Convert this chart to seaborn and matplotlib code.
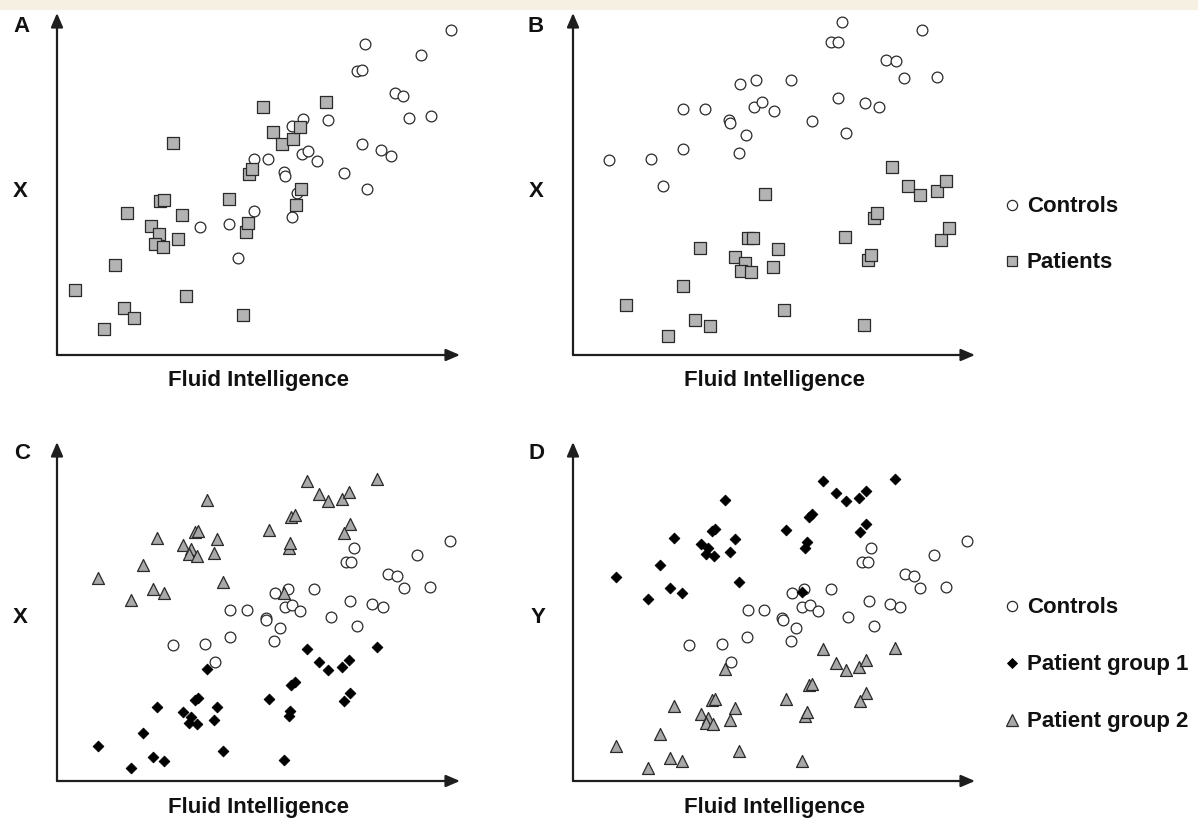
import matplotlib
matplotlib.use("Agg")
import matplotlib.pyplot as plt
from matplotlib.lines import Line2D
from matplotlib.patches import Rectangle
import seaborn as sns
import pandas as pd

# ---------------- data (arbitrary score units) ----------------
# Panel A
a_pat_x = [5.3, 14.0, 17.3, 20.2, 23.0, 21.1, 28.3, 30.6, 29.4, 31.8, 31.0, 32.1, 36.3, 37.5, 34.7,
           38.8, 51.7, 55.7, 56.6, 57.3, 57.5, 58.6, 61.9, 65.0, 67.6, 71.0, 73.0, 80.8, 73.4, 71.8]
a_pat_y = [19.5, 7.7, 27.0, 14.1, 11.2, 42.5, 38.6, 36.2, 33.2, 32.5, 46.1, 46.4, 34.7, 41.9, 63.4,
           17.7, 46.7, 12.0, 37.0, 39.7, 54.2, 55.7, 74.2, 66.7, 63.1, 64.8, 68.3, 75.7, 49.9, 45.1]
a_con_x = [43.0, 51.7, 54.3, 59.0, 59.0, 63.4, 68.2, 68.5, 70.5, 72.0, 70.6, 74.0, 73.7, 75.4, 78.0,
           81.5, 86.3, 91.5, 93.0, 97.2, 100.2, 90.1, 91.7, 92.5, 101.5, 103.8, 105.7, 112.4, 109.2, 118.2]
a_con_y = [38.5, 39.2, 29.0, 43.2, 58.7, 58.6, 54.8, 53.5, 41.5, 48.5, 68.7, 70.7, 60.1, 61.1, 58.2,
           70.3, 54.4, 63.1, 49.9, 61.5, 59.6, 85.1, 85.4, 93.1, 78.5, 77.6, 70.9, 71.5, 89.9, 97.3]

# Panel B
b_con_x = [10.9, 23.5, 27.0, 33.1, 33.1, 39.6, 46.7, 47.0, 49.9, 51.9, 50.2, 54.8, 54.2, 56.8, 60.3,
           65.4, 71.9, 77.4, 79.7, 80.8, 79.6, 81.9, 87.7, 91.8, 93.9, 97.1, 99.3, 104.9, 109.3]
b_con_y = [58.3, 58.8, 50.8, 61.8, 73.7, 73.7, 70.5, 69.5, 60.4, 66.0, 81.1, 82.4, 74.3, 75.7, 73.1,
           82.4, 70.2, 93.7, 93.7, 99.8, 76.9, 66.6, 75.6, 74.3, 88.4, 88.2, 83.0, 97.3, 83.4]
b_pat_x = [15.8, 28.4, 32.9, 36.7, 41.2, 38.1, 48.7, 51.6, 50.4, 53.5, 52.6, 53.9, 57.7, 60.1, 61.5,
           63.5, 81.6, 87.4, 88.7, 89.4, 90.3, 91.3, 95.8, 100.5, 104.2, 109.2, 112.0, 110.4, 112.8]
b_pat_y = [15.1, 5.8, 20.6, 10.5, 8.7, 32.2, 29.3, 27.5, 25.1, 24.8, 35.0, 35.1, 48.3, 26.4, 31.9,
           13.5, 35.4, 9.0, 28.5, 29.9, 41.2, 42.5, 56.4, 50.8, 48.0, 49.2, 52.2, 34.5, 38.0]

# Panel C
c_g2_x = [12.4, 22.1, 25.7, 28.9, 32.1, 29.9, 37.8, 40.1, 39.6, 42.0, 41.4, 42.3, 47.0, 48.0, 45.1,
          49.7, 63.7, 68.1, 69.6, 70.0, 70.4, 71.6, 75.0, 78.6, 81.5, 85.6, 87.7, 88.0, 86.3, 96.0]
c_g2_y = [60.9, 54.4, 64.8, 57.7, 56.4, 72.9, 70.8, 69.7, 68.0, 67.5, 74.7, 75.1, 68.5, 72.6, 84.2,
          59.6, 75.2, 56.5, 70.0, 71.4, 79.2, 79.9, 90.0, 86.2, 83.9, 84.7, 86.8, 77.1, 74.3, 90.7]
c_g1_x = [12.4, 22.1, 25.7, 28.9, 32.1, 29.9, 37.8, 40.1, 39.6, 42.0, 41.4, 42.3, 47.0, 48.0, 45.1,
          49.7, 63.7, 68.1, 69.6, 70.0, 70.4, 71.6, 75.0, 78.6, 81.5, 85.6, 87.7, 88.0, 86.3, 96.0]
c_g1_y = [10.5, 4.0, 14.3, 7.3, 5.9, 22.3, 20.6, 19.2, 17.5, 17.1, 24.4, 24.8, 18.2, 22.1, 33.5,
          9.1, 24.7, 6.2, 19.4, 20.9, 28.7, 29.7, 39.5, 35.7, 33.4, 34.2, 36.2, 26.5, 24.0, 40.1]
c_con_x = [34.7, 44.4, 47.5, 52.0, 52.0, 56.9, 62.7, 62.7, 65.3, 67.1, 65.6, 69.5, 68.5, 70.6, 73.1,
           77.3, 82.4, 88.1, 90.1, 86.7, 88.2, 89.3, 94.6, 98.0, 99.5, 102.1, 104.1, 108.2, 112.0, 118.0]
c_con_y = [40.8, 41.2, 35.7, 43.3, 51.4, 51.4, 49.0, 48.4, 42.0, 45.9, 56.5, 57.6, 52.2, 52.9, 51.0,
           57.6, 49.1, 53.9, 46.6, 65.7, 65.6, 69.8, 53.1, 52.1, 62.0, 61.4, 57.8, 67.9, 58.3, 72.1]

# Panel D
d_g1_x = [12.9, 22.5, 26.2, 29.0, 32.6, 30.2, 38.3, 40.4, 39.8, 42.2, 41.6, 42.7, 47.0, 48.5, 45.6,
          49.8, 64.0, 68.7, 69.6, 70.3, 70.8, 71.7, 75.0, 79.0, 82.0, 85.8, 87.9, 88.1, 86.3, 96.6]
d_g1_y = [61.1, 54.6, 64.9, 57.9, 56.5, 73.0, 71.2, 69.9, 68.1, 67.6, 75.1, 75.5, 68.8, 72.7, 84.3,
          59.8, 75.4, 56.8, 70.0, 71.6, 79.3, 80.2, 90.1, 86.4, 84.0, 84.9, 86.9, 77.2, 74.6, 90.7]
d_g2_x = [12.9, 22.5, 26.2, 29.0, 32.6, 30.2, 38.3, 40.4, 39.8, 42.0, 41.6, 42.7, 47.0, 48.5, 45.6,
          49.8, 64.0, 68.7, 69.6, 70.3, 70.8, 71.7, 75.0, 79.0, 82.0, 85.8, 87.9, 88.1, 86.3, 96.6]
d_g2_y = [10.4, 3.8, 14.2, 7.0, 5.9, 22.4, 20.2, 19.0, 17.4, 17.0, 24.4, 24.6, 18.2, 22.0, 33.6,
          9.0, 24.7, 6.0, 19.4, 20.7, 28.8, 29.2, 39.5, 35.5, 33.2, 34.2, 36.2, 26.5, 23.9, 40.0]
d_con_x = [34.9, 44.8, 47.4, 52.2, 52.5, 57.4, 62.9, 63.2, 65.5, 67.1, 65.8, 69.5, 68.7, 71.1, 73.6,
           77.4, 82.6, 88.8, 90.4, 86.9, 88.5, 89.6, 95.1, 98.1, 99.7, 102.3, 104.3, 108.4, 112.0, 118.2]
d_con_y = [40.8, 41.2, 35.7, 43.3, 51.4, 51.4, 49.0, 48.4, 42.0, 45.9, 56.5, 57.6, 52.2, 52.9, 51.0,
           57.6, 49.1, 53.9, 46.6, 65.7, 65.6, 69.8, 53.1, 52.1, 62.0, 61.4, 57.8, 67.9, 58.3, 72.1]

panel_letters = ["A", "B", "C", "D"]
y_labels = ["X", "X", "X", "Y"]
x_label = "Fluid Intelligence"
legend_b = ["Controls", "Patients"]
legend_d = ["Controls", "Patient group 1", "Patient group 2"]

# ---------------- styling ----------------
sns.set_theme(style="white")
plt.rcParams["font.family"] = ["Liberation Sans", "DejaVu Sans"]

W, H = 1198, 819
fig = plt.figure(figsize=(W / 100, H / 100), dpi=100)
fig.patch.set_facecolor("white")
fig.add_artist(Rectangle((0, 1 - 10 / H), 1, 10 / H, transform=fig.transFigure,
                         facecolor="#f5f0e2", edgecolor="none", zorder=0))

def fx(px):
    return px / W

def fy(py):
    return 1 - py / H

def make_ax(left, right, top, bottom):
    return fig.add_axes([fx(left), fy(bottom), fx(right) - fx(left), (bottom - top) / H])

EDGE = "#2a2a2a"
GRAY_SQ = "#b3b3b3"
GRAY_TR = "#a8a8a8"
styles = {
    "circle": dict(marker="o", s=60, color="white", edgecolor=EDGE, linewidth=0.9),
    "square": dict(marker="s", s=64, color=GRAY_SQ, edgecolor=EDGE, linewidth=0.9),
    "diamond": dict(marker="D", s=30, color="black", edgecolor="black", linewidth=0.6),
    "triangle": dict(marker="^", s=74, color=GRAY_TR, edgecolor=EDGE, linewidth=0.9),
}

def scatter(ax, xs, ys, kind):
    df = pd.DataFrame({"x": xs, "y": ys})
    sns.scatterplot(data=df, x="x", y="y", ax=ax, legend=False, clip_on=False, **styles[kind])

def finish(ax, xmax, ymax):
    ax.set_xlim(0, xmax)
    ax.set_ylim(0, ymax)
    for sp in ax.spines.values():
        sp.set_visible(False)
    ax.set_xticks([])
    ax.set_yticks([])
    ax.set_xlabel("")
    ax.set_ylabel("")
    ax.patch.set_alpha(0)
    ap = dict(arrowstyle="-|>,head_length=0.7,head_width=0.3", lw=1.6, color="#1e1e1e",
              shrinkA=0, shrinkB=0, mutation_scale=12)
    ax.annotate("", xy=(1, 0), xytext=(0, 0), xycoords="axes fraction", arrowprops=ap)
    ax.annotate("", xy=(0, 1), xytext=(0, 0), xycoords="axes fraction", arrowprops=ap)

axA = make_ax(57, 460, 13, 355)
scatter(axA, a_con_x, a_con_y, "circle")
scatter(axA, a_pat_x, a_pat_y, "square")
finish(axA, 121, 102.5)

axB = make_ax(573, 975, 13, 355)
scatter(axB, b_con_x, b_con_y, "circle")
scatter(axB, b_pat_x, b_pat_y, "square")
finish(axB, 120.7, 102.5)

axC = make_ax(57, 460, 442, 781)
scatter(axC, c_con_x, c_con_y, "circle")
scatter(axC, c_g1_x, c_g1_y, "diamond")
scatter(axC, c_g2_x, c_g2_y, "triangle")
finish(axC, 121, 101.7)

axD = make_ax(573, 975, 442, 781)
scatter(axD, d_con_x, d_con_y, "circle")
scatter(axD, d_g1_x, d_g1_y, "diamond")
scatter(axD, d_g2_x, d_g2_y, "triangle")
finish(axD, 120.7, 101.7)

FS = 16
tkw = dict(fontsize=FS, fontweight="bold", color="#111111", va="baseline")

# panel letters
for letter, (px, py) in zip(panel_letters, [(22, 32), (536, 32), (22, 459), (536, 459)]):
    fig.text(fx(px), fy(py), letter, ha="center", **tkw)
# y labels
for lab, (px, py) in zip(y_labels, [(20, 197), (536, 197), (20, 623), (538, 623)]):
    fig.text(fx(px), fy(py), lab, ha="center", **tkw)
# x labels
for (px, py) in [(258, 386), (775, 386), (258, 813), (775, 813)]:
    fig.text(fx(px), fy(py), x_label, ha="center", **tkw)

# legends
def legend_item(py_center, py_base, kind, label):
    st = styles[kind]
    ms = st["s"] ** 0.5 * 0.95
    fig.add_artist(Line2D([fx(1012)], [fy(py_center)], transform=fig.transFigure,
                          marker=st["marker"], markersize=ms, markerfacecolor=st["color"],
                          markeredgecolor=st["edgecolor"], markeredgewidth=st["linewidth"],
                          linestyle="none"))
    fig.text(fx(1027), fy(py_base), label, ha="left", **tkw)

legend_item(205, 212, "circle", legend_b[0])
legend_item(261, 268, "square", legend_b[1])
legend_item(606, 613, "circle", legend_d[0])
legend_item(663, 670, "diamond", legend_d[1])
legend_item(720, 727, "triangle", legend_d[2])

fig.savefig("out.png", dpi=100, facecolor="white")
